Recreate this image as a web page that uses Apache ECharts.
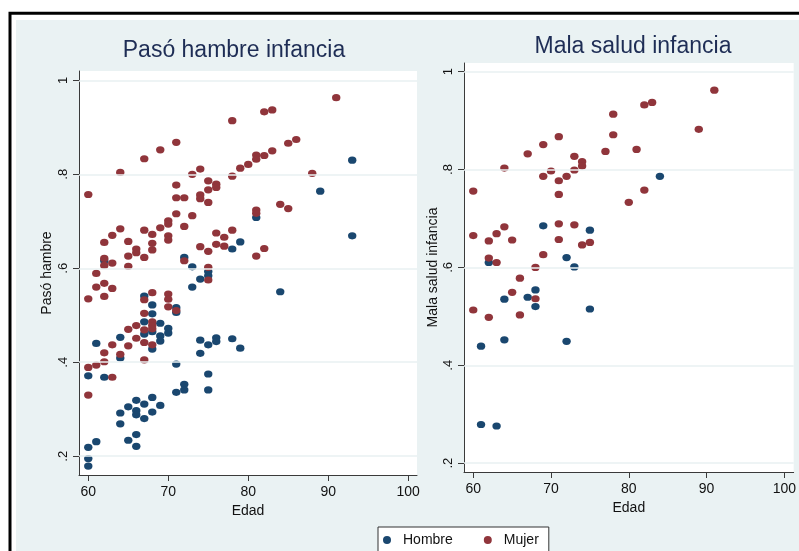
<!DOCTYPE html>
<html>
<head>
<meta charset="utf-8">
<script src="https://cdn.jsdelivr.net/npm/echarts@6/dist/echarts.min.js"></script>
<style>
  html, body { margin: 0; padding: 0; background: #fff; }
  #chart { width: 799px; height: 551px; }
</style>
</head>
<body>
<div id="chart"></div>
<script>
// Proporciones por edad: pasó hambre y mala salud en la infancia, por sexo
const hambreHombre = [
  [60,0.371],[60,0.219],[60,0.195],[60,0.179],
  [61,0.440],[61,0.231],
  [62,0.616],[62,0.368],
  [64,0.453],[64,0.409],[64,0.292],[64,0.269],
  [65,0.305],[65,0.234],
  [66,0.319],[66,0.297],[66,0.288],[66,0.246],[66,0.221],
  [67,0.541],[67,0.486],[67,0.460],[67,0.311],[67,0.280],
  [68,0.522],[68,0.503],[68,0.465],[68,0.428],[68,0.325],[68,0.294],
  [69,0.483],[69,0.456],[69,0.445],[69,0.308],
  [70,0.472],[70,0.462],
  [71,0.516],[71,0.506],[71,0.396],[71,0.336],
  [72,0.623],[72,0.353],[72,0.341],
  [73,0.603],[73,0.560],
  [74,0.577],[74,0.447],[74,0.419],
  [75,0.593],[75,0.584],[75,0.437],[75,0.375],[75,0.341],
  [76,0.452],[76,0.444],
  [78,0.641],[78,0.450],
  [79,0.656],[79,0.430],
  [81,0.708],
  [84,0.550],
  [89,0.764],
  [93,0.830],[93,0.669]
];

const hambreMujer = [
  [60,0.757],[60,0.535],[60,0.389],[60,0.330],
  [61,0.589],[61,0.560],[61,0.394],
  [62,0.655],[62,0.621],[62,0.606],[62,0.568],[62,0.540],[62,0.420],[62,0.401],
  [63,0.670],[63,0.611],[63,0.557],[63,0.437],[63,0.368],
  [64,0.804],[64,0.684],[64,0.417],
  [65,0.657],[65,0.626],[65,0.604],[65,0.470],[65,0.435],
  [66,0.641],[66,0.633],[66,0.478],[66,0.451],
  [67,0.833],[67,0.681],[67,0.623],[67,0.533],[67,0.504],[67,0.469],[67,0.442],[67,0.405],
  [68,0.672],[68,0.653],[68,0.639],[68,0.548],[68,0.486],[68,0.478],[68,0.471],[68,0.437],
  [69,0.852],[69,0.686],
  [70,0.701],[70,0.694],[70,0.669],[70,0.660],[70,0.545],[70,0.534],[70,0.518],
  [71,0.868],[71,0.777],[71,0.750],[71,0.716],[71,0.510],
  [72,0.750],[72,0.689],[72,0.616],
  [73,0.800],[73,0.712],
  [74,0.811],[74,0.756],[74,0.748],[74,0.646],
  [75,0.786],[75,0.767],[75,0.740],[75,0.636],[75,0.602],[75,0.575],
  [76,0.779],[76,0.772],[76,0.675],[76,0.651],
  [77,0.666],[77,0.647],
  [78,0.914],[78,0.796],[78,0.681],
  [79,0.813],
  [80,0.821],
  [81,0.841],[81,0.832],[81,0.724],[81,0.717],[81,0.626],
  [82,0.933],[82,0.840],[82,0.642],
  [83,0.937],[83,0.850],
  [84,0.736],
  [85,0.866],[85,0.727],
  [86,0.874],
  [88,0.802],
  [91,0.963]
];

const saludHombre = [
  [61,0.439],[61,0.279],
  [62,0.610],
  [63,0.276],
  [64,0.535],[64,0.452],
  [67,0.539],
  [68,0.554],[68,0.520],
  [69,0.685],
  [72,0.620],[72,0.449],
  [73,0.601],
  [75,0.676],[75,0.515],
  [84,0.786]
];

const saludMujer = [
  [60,0.756],[60,0.665],[60,0.513],
  [62,0.654],[62,0.619],[62,0.498],
  [63,0.669],[63,0.610],
  [64,0.803],[64,0.683],
  [65,0.656],[65,0.549],
  [66,0.578],[66,0.503],
  [67,0.832],
  [68,0.600],[68,0.536],
  [69,0.851],[69,0.786],[69,0.626],
  [70,0.797],
  [71,0.867],[71,0.777],[71,0.749],[71,0.689],[71,0.657],
  [72,0.786],
  [73,0.827],[73,0.799],[73,0.687],
  [74,0.816],[74,0.807],[74,0.646],
  [75,0.651],
  [77,0.837],
  [78,0.913],[78,0.871],
  [80,0.733],
  [81,0.841],
  [82,0.932],[82,0.758],
  [83,0.937],
  [89,0.882],
  [91,0.962]
];

const edadTicks = [60, 70, 80, 90, 100];
const propTicks = [0.2, 0.4, 0.6, 0.8, 1];
const panelTitles = ['Pasó hambre infancia', 'Mala salud infancia'];
const yNames = ['Pasó hambre', 'Mala salud infancia'];
const xName = 'Edad';
const sexos = ['Hombre', 'Mujer'];

const FONT = '"Liberation Sans", Arial, Helvetica, sans-serif';
const NAVY = '#1A476F';
const MAROON = '#90353B';
const BG = '#EAF2F3';
const AXIS = '#3a3a3a';
const GRID = '#E8F0F2';

const fmtProp = v => (Math.abs(v - 1) < 1e-9 ? '1' : String(+v.toFixed(2)).replace(/^0/, ''));

function xAxisFor(i, min, max) {
  return {
    type: 'value', gridIndex: i, min: min, max: max,
    name: xName, nameLocation: 'middle', nameGap: 22,
    nameTextStyle: { fontFamily: FONT, fontSize: 14, color: '#111' },
    axisLine: { show: true, onZero: false, lineStyle: { color: AXIS, width: 1 } },
    axisTick: { show: true, inside: false, length: 6, customValues: edadTicks, lineStyle: { color: AXIS } },
    axisLabel: { customValues: edadTicks, margin: 10, fontFamily: FONT, fontSize: 14, color: '#111' },
    splitLine: { show: false }
  };
}

function yAxisFor(i, min, max, gap) {
  return {
    type: 'value', gridIndex: i, min: min, max: max,
    name: yNames[i], nameLocation: 'middle', nameGap: gap, nameRotate: 90,
    nameTextStyle: { fontFamily: FONT, fontSize: 14, color: '#111' },
    axisLine: { show: true, onZero: false, lineStyle: { color: AXIS, width: 1 } },
    axisTick: { show: true, inside: false, length: 6, customValues: propTicks, lineStyle: { color: AXIS } },
    axisLabel: { customValues: propTicks, rotate: 90, margin: 9, fontFamily: FONT, fontSize: 13, color: '#111', formatter: fmtProp },
    splitLine: { show: false }
  };
}

function scatter(name, data, color, i) {
  return {
    type: 'scatter', name: name, data: data, xAxisIndex: i, yAxisIndex: i,
    symbol: 'circle', symbolSize: [8.4, 7.2], z: 3,
    itemStyle: { color: color, opacity: 1 },
    emphasis: { disabled: true }
  };
}

// horizontal reference lines at the labelled proportions
function gridLines(i) {
  return {
    type: 'line', data: [], xAxisIndex: i, yAxisIndex: i, z: 1, silent: true,
    markLine: {
      silent: true, symbol: 'none', label: { show: false }, animation: false,
      lineStyle: { color: GRID, width: 1.5, type: 'solid' },
      data: propTicks.map(v => ({ yAxis: v }))
    }
  };
}

const chart = echarts.init(document.getElementById('chart'), null, { renderer: 'canvas' });
chart.setOption({
  animation: false,
  backgroundColor: '#fff',
  graphic: [
    { type: 'rect', silent: true, z: -20, shape: { x: 10, y: 13.3, width: 820, height: 560 },
      style: { fill: '#fff', stroke: '#000', lineWidth: 3 } },
    { type: 'rect', silent: true, z: -19, shape: { x: 16, y: 20, width: 800, height: 560 },
      style: { fill: BG } }
  ],
  title: [
    { text: panelTitles[0], left: 234, top: 39, textAlign: 'center', padding: 0,
      textStyle: { fontFamily: FONT, fontSize: 23, fontWeight: 'normal', color: '#1E2D55' } },
    { text: panelTitles[1], left: 633, top: 35, textAlign: 'center', padding: 0,
      textStyle: { fontFamily: FONT, fontSize: 23, fontWeight: 'normal', color: '#1E2D55' } }
  ],
  legend: {
    data: sexos, left: 378, top: 527, orient: 'horizontal',
    backgroundColor: '#fff', borderColor: '#333', borderWidth: 1,
    padding: [6, 10, 8, 5], itemWidth: 8, itemHeight: 8, itemGap: 31, icon: 'circle',
    selectedMode: false,
    textStyle: { fontFamily: FONT, fontSize: 14, color: '#111', padding: [0, 0, 0, 7] }
  },
  grid: [
    { left: 79, top: 71, width: 338, height: 404, show: true, backgroundColor: '#fff', borderWidth: 0 },
    { left: 464, top: 63, width: 336, height: 409, show: true, backgroundColor: '#fff', borderWidth: 0 }
  ],
  xAxis: [ xAxisFor(0, 58.84, 101.1), xAxisFor(1, 58.81, 101.2) ],
  yAxis: [ yAxisFor(0, 0.160, 1.0198, 25), yAxisFor(1, 0.182, 1.0176, 24) ],
  series: [
    gridLines(0),
    gridLines(1),
    scatter(sexos[0], hambreHombre, NAVY, 0),
    scatter(sexos[1], hambreMujer, MAROON, 0),
    scatter(sexos[0], saludHombre, NAVY, 1),
    scatter(sexos[1], saludMujer, MAROON, 1)
  ]
});
</script>
</body>
</html>
